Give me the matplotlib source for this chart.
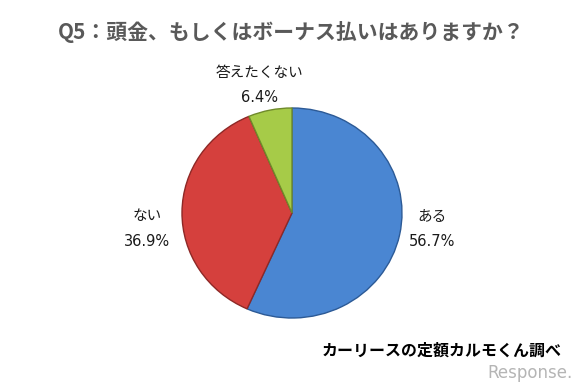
import matplotlib
matplotlib.use('Agg')
import matplotlib.pyplot as plt

plt.rcParams['font.family'] = ['Noto Sans CJK JP', 'DejaVu Sans']

title = 'Q5：頭金、もしくはボーナス払いはありますか？'
labels = ['ある', 'ない', '答えたくない']
values = [56.7, 36.9, 6.4]
colors = ['#4a86d2', '#d5403d', '#a6cb48']
edges = ['#2c5a96', '#8e2826', '#6f8a2a']
source = 'カーリースの定額カルモくん調べ'

W, H = 585, 385
fig = plt.figure(figsize=(W / 100, H / 100), dpi=100)
fig.patch.set_facecolor('white')

# pie area in pixels (slightly wider than tall, like the reference)
left, top, w, h = 182, 108, 220, 210
ax = fig.add_axes([left / W, 1 - (top + h) / H, w / W, h / H])
wedges, _ = ax.pie(values, colors=colors, startangle=90, counterclock=False,
                   wedgeprops=dict(linewidth=1.0))
for wd, ec in zip(wedges, edges):
    wd.set_edgecolor(ec)
ax.set_aspect('auto')
ax.set_xlim(-1.0, 1.0)
ax.set_ylim(-1.0, 1.0)
ax.axis('off')

fig.text(291 / W, 1 - 32 / H, title, ha='center', va='center',
         fontsize=15, fontweight='bold', color='#595959')

# label positions (pixels) for name and percent
pos = [(432, 217, 432, 242), (147, 216, 147, 242), (259, 73, 259, 98)]
for lab, v, (nx, ny, px, py) in zip(labels, values, pos):
    fig.text(nx / W, 1 - ny / H, lab, ha='center', va='center',
             fontsize=10.5, color='#1a1a1a')
    fig.text(px / W, 1 - py / H, f'{v:.1f}%', ha='center', va='center',
             fontsize=10.5, color='#1a1a1a', family=['DejaVu Sans'])

fig.text(442 / W, 1 - 351 / H, source, ha='center', va='center',
         fontsize=11.5, fontweight='bold', color='#000000')
fig.text(573 / W, 1 - 373 / H, 'Response.', ha='right', va='center',
         fontsize=12, color='#b5b5b5', family=['DejaVu Sans'])

fig.savefig('out.png', dpi=100)
